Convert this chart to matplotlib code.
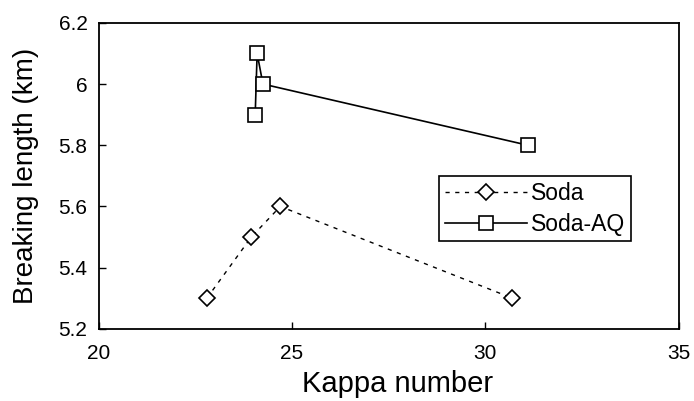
import matplotlib.pyplot as plt
import numpy as np

plt.rcParams['font.family'] = ['Liberation Sans', 'DejaVu Sans']

# Soda cooking
kappa_soda = [22.8, 23.95, 24.7, 30.7]
bl_soda = [5.3, 5.5, 5.6, 5.3]

# Soda-AQ cooking
kappa_aq = [24.05, 24.1, 24.25, 31.1]
bl_aq = [5.9, 6.1, 6.0, 5.8]

x_ticks = [20, 25, 30, 35]
y_ticks = [5.2, 5.4, 5.6, 5.8, 6.0, 6.2]
y_tick_labels = ["5.2", "5.4", "5.6", "5.8", "6", "6.2"]


def main():
    fig = plt.figure(figsize=(6.94, 4.01), dpi=100)
    ax = fig.add_axes([0.142, 0.180, 0.836, 0.763])

    ax.plot(kappa_soda, bl_soda, color="black", lw=1.0, ls=(0, (3, 4)),
            marker='D', ms=8, mfc='white', mec='black', mew=1.2, label="Soda")
    ax.plot(kappa_aq, bl_aq, color="black", lw=1.2, ls='-',
            marker='s', ms=10, mfc='white', mec='black', mew=1.2, label="Soda-AQ")

    ax.set_xlim(20, 35)
    ax.set_ylim(5.2, 6.2)
    ax.set_xticks(x_ticks)
    ax.set_yticks(y_ticks)
    ax.set_yticklabels(y_tick_labels)
    ax.tick_params(direction='in', length=5, width=1, labelsize=15)
    ax.tick_params(axis='x', pad=11)
    ax.tick_params(axis='y', pad=8)

    for s in ax.spines.values():
        s.set_linewidth(1.3)

    ax.set_xlabel("Kappa number", fontsize=21)
    ax.xaxis.set_label_coords(0.515, -0.135)
    ax.set_ylabel("Breaking length (km)", fontsize=20, labelpad=14)

    leg = ax.legend(loc='upper left', bbox_to_anchor=(0.587, 0.5), fontsize=16.5,
                    handlelength=3.6, handletextpad=0.15, borderpad=0.25,
                    labelspacing=0.35, fancybox=False, framealpha=1,
                    edgecolor='black', borderaxespad=0)
    leg.get_frame().set_linewidth(1.2)

    plt.savefig("out.png", dpi=100)


if __name__ == "__main__":
    main()
